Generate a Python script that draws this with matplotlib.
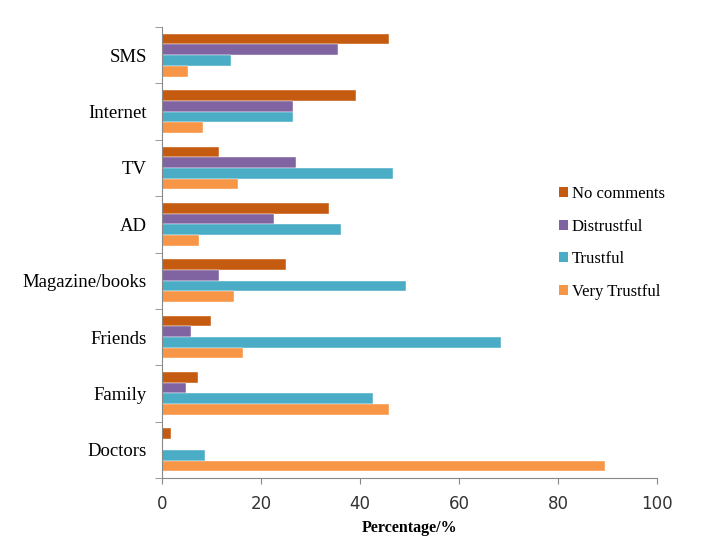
import numpy as np
from matplotlib import pyplot as plt
from matplotlib.patches import Patch

# =============================================================================
# data
# =============================================================================
sources = ["SMS", "Internet", "TV", "AD", "Magazine/books", "Friends", "Family", "Doctors"]
series = ["No comments", "Distrustful", "Trustful", "Very Trustful"]
no_comments = [45.9, 39.2, 11.6, 33.8, 25.0, 9.9, 7.2, 1.8]
distrustful = [35.5, 26.4, 27.1, 22.7, 11.6, 5.9, 4.8, 0.0]
trustful = [13.9, 26.4, 46.6, 36.2, 49.3, 68.5, 42.6, 8.6]
very_trustful = [5.2, 8.2, 15.3, 7.5, 14.6, 16.3, 45.9, 89.5]
colors = ["#C55A11", "#8064A2", "#4BACC6", "#F79646"]
xticks = [0, 20, 40, 60, 80, 100]

# =============================================================================
# plot
# =============================================================================
fig = plt.figure(figsize=(7.01, 5.55), dpi=100)
ax = fig.add_axes([162/701, 77/555, 495/701, 451/555])

n = len(sources)
pos = np.arange(n)[::-1].astype(float)
h = 0.19
vals = [no_comments, distrustful, trustful, very_trustful]
for k in range(4):
    ax.barh(pos + (1.5 - k)*h, vals[k], height=h, color=colors[k],
            edgecolor="white", linewidth=0.3)

ax.set_xlim(0, 100)
ax.set_ylim(-0.5, n - 0.5)
ax.set_xticks(xticks)
ax.set_xticklabels([str(t) for t in xticks], fontsize=12, color="#333333")
ax.set_yticks(pos)
ax.set_yticklabels(sources, fontsize=13.5, family="Liberation Serif")
ax.set_yticks(np.arange(-0.5, n, 1.0), minor=True)
ax.tick_params(axis="y", which="major", length=0, pad=11)
ax.tick_params(axis="y", which="minor", length=5, direction="out", color="#888888")
ax.tick_params(axis="x", length=4, direction="out", color="#888888", pad=8)
for s in ["top", "right"]:
    ax.spines[s].set_visible(False)
ax.spines["left"].set_color("#888888")
ax.spines["bottom"].set_color("#888888")
ax.set_xlabel("Percentage/%", fontsize=11.5, family="Liberation Serif",
              fontweight="bold", labelpad=5)

handles = [Patch(facecolor=c) for c in colors]
fig.legend(handles, series, loc="center left", bbox_to_anchor=(544/701, 1 - 243/555),
           frameon=False, prop={"family": "Liberation Serif", "size": 12},
           handlelength=0.55, handleheight=0.55, handletextpad=0.2, labelspacing=1.0)

plt.savefig("out.png", dpi=100)
